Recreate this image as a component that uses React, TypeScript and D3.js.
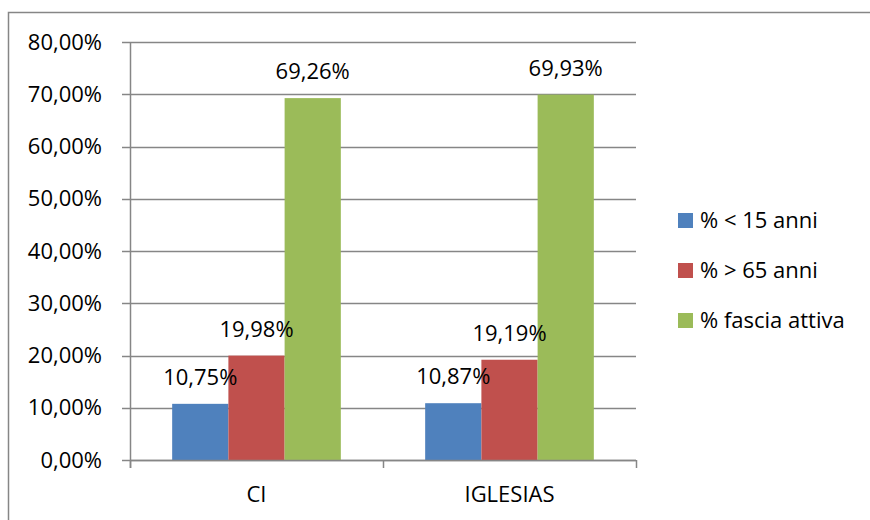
import React from "react";
import * as d3 from "d3";

const categories = ["CI", "IGLESIAS"];
const seriesNames = ["% < 15 anni", "% > 65 anni", "% fascia attiva"];
const under15 = [0.1075, 0.1087];
const over65 = [0.1998, 0.1919];
const activeAge = [0.6926, 0.6993];
const yTicks = [0, 0.1, 0.2, 0.3, 0.4, 0.5, 0.6, 0.7, 0.8];
const colors = ["#4F81BD", "#C0504D", "#9BBB59"];

const W = 870;
const H = 520;
const plot = { left: 130, right: 636, top: 42, bottom: 460 };
const FONT = "'Open Sans', sans-serif";
const FS = 22;
const GRID = "#868686";

const fmt = (v: number) => (v * 100).toFixed(2).replace(".", ",") + "%";

export default function App() {
  const series = [under15, over65, activeAge];

  const y = d3.scaleLinear().domain([0, 0.8]).range([plot.bottom, plot.top]);
  const x0 = d3.scaleBand<string>().domain(categories).range([plot.left, plot.right]).padding(0);
  const bw = x0.bandwidth();
  const gap = (bw / 4.5) * 1.5;
  const x1 = d3
    .scaleBand<number>()
    .domain(d3.range(seriesNames.length))
    .range([gap / 2, bw - gap / 2])
    .padding(0);

  return (
    <svg
      width={W}
      height={H}
      style={{ position: "fixed", left: 0, top: 0, background: "#fff" }}
      fontFamily={FONT}
    >
      {/* chart frame */}
      <rect x={8.5} y={12.5} width={W} height={H} fill="#fff" stroke={GRID} strokeWidth={1.5} />

      {/* gridlines and y ticks */}
      {yTicks.map((t) => (
        <g key={t}>
          <line x1={plot.left - 8} x2={plot.right} y1={Math.round(y(t)) + 0.5} y2={Math.round(y(t)) + 0.5} stroke={GRID} strokeWidth={1.5} />
          <text x={102} y={y(t)} dy="0.35em" textAnchor="end" fontSize={FS} fill="#000">
            {fmt(t)}
          </text>
        </g>
      ))}

      {/* bars */}
      {categories.map((c, ci) =>
        series.map((vals, si) => {
          const bx = (x0(c) as number) + (x1(si) as number);
          return (
            <rect
              key={c + si}
              x={bx}
              y={y(vals[ci])}
              width={x1.bandwidth()}
              height={plot.bottom - y(vals[ci])}
              fill={colors[si]}
            />
          );
        })
      )}

      {/* value labels */}
      {categories.map((c, ci) =>
        series.map((vals, si) => {
          const cx = (x0(c) as number) + (x1(si) as number) + x1.bandwidth() / 2;
          return (
            <text key={"l" + c + si} x={cx} y={y(vals[ci]) - 19} textAnchor="middle" fontSize={FS} fill="#000">
              {fmt(vals[ci])}
            </text>
          );
        })
      )}

      {/* axes */}
      <line x1={plot.left + 0.5} x2={plot.left + 0.5} y1={plot.top} y2={plot.bottom + 8} stroke={GRID} strokeWidth={1.5} />
      <line x1={plot.left} x2={plot.right} y1={plot.bottom + 0.5} y2={plot.bottom + 0.5} stroke={GRID} strokeWidth={1.5} />
      {[plot.left, ...categories.map((c) => (x0(c) as number) + bw)].map((tx, i) => (
        <line key={"xt" + i} x1={tx + 0.5} x2={tx + 0.5} y1={plot.bottom} y2={plot.bottom + 8} stroke={GRID} strokeWidth={1.5} />
      ))}
      {categories.map((c) => (
        <text key={"c" + c} x={(x0(c) as number) + bw / 2} y={502} textAnchor="middle" fontSize={FS} fill="#000">
          {c}
        </text>
      ))}

      {/* legend */}
      {seriesNames.map((s, i) => (
        <g key={s} transform={`translate(678, ${213 + i * 50})`}>
          <rect width={15} height={15} fill={colors[i]} />
          <text x={22} y={7.5} dy="0.35em" fontSize={FS} fill="#000">
            {s}
          </text>
        </g>
      ))}
    </svg>
  );
}
